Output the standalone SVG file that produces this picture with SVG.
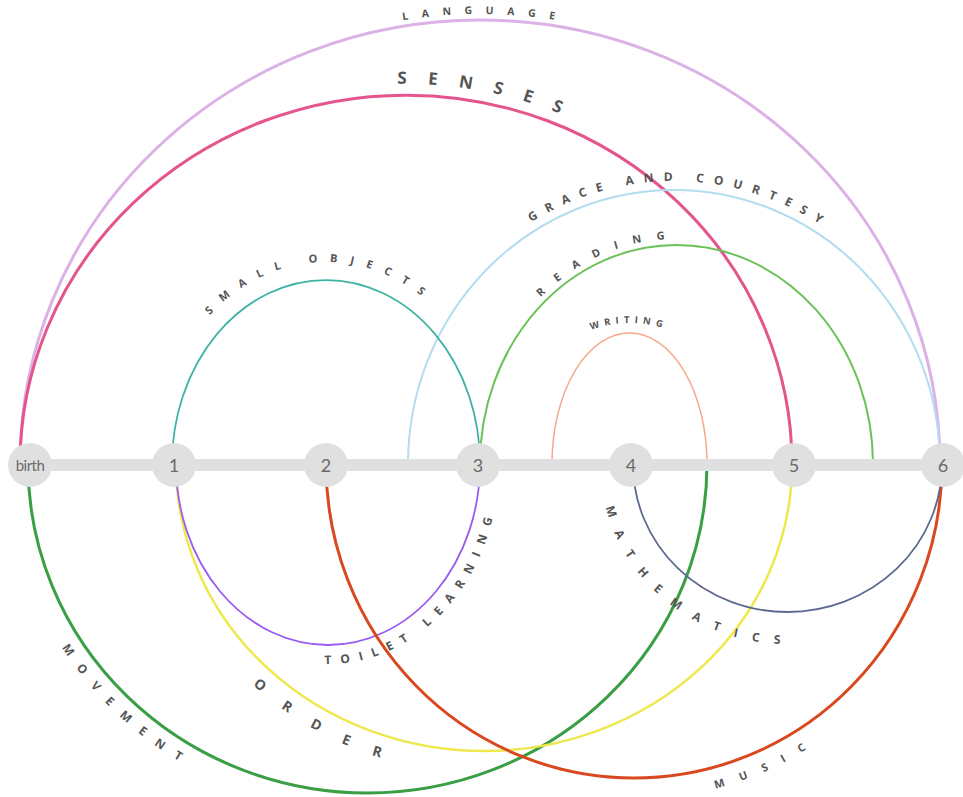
<svg xmlns="http://www.w3.org/2000/svg" width="963" height="797" viewBox="0 0 963 797">
<style>
.arc{fill:none;stroke-linecap:round}
.lbl{font-family:"Open Sans","Liberation Sans",sans-serif;font-weight:700;fill:#555555}
.node circle{fill:#e0e0e0}
.node text{font-family:"Lato","Open Sans",sans-serif;font-size:18px;fill:#6a6a6a;text-anchor:middle;dominant-baseline:central}
</style>
<defs>
<path id="p-language" d="M 14 464 A 466 450 0 0 1 946 464"/>
<path id="p-senses" d="M 9 464 A 397 380 0 0 1 803 464"/>
<path id="p-grace" d="M 399 464 A 275 283 0 0 1 949 464"/>
<path id="p-reading" d="M 474.5 464 A 202 225 0 0 1 878.5 464"/>
<path id="p-writing" d="M 583 333 Q 630 313 677 333"/>
<path id="p-small" d="M 154 464 A 172 202 0 0 1 498 464"/>
<path id="p-toilet" d="M 157 464 A 171 200 0 0 0 499 464"/>
<path id="p-movement" d="M 8.5 464 A 359 349 0 0 0 726.5 464"/>
<path id="p-order" d="M 154 464 A 330 309 0 0 0 814 464"/>
<path id="p-math" d="M 600.5 464 A 187 180 0 0 0 974.5 464"/>
<path id="p-music" d="M 305 464 A 329 335 0 0 0 963 464"/>
</defs>
<rect width="963" height="797" fill="#ffffff"/>
<g id="connectors">
<path id="arc-language" class="arc" d="M 20 464 A 460 444 0 0 1 940 464" stroke="#dcb2e6" stroke-width="3"/>
<path id="arc-senses" class="arc" d="M 20 464 A 386 369 0 0 1 792 464" stroke="#e4558e" stroke-width="3"/>
<path id="arc-grace" class="arc" d="M 408 464 A 266 274 0 0 1 940 464" stroke="#b4dcf0" stroke-width="2"/>
<path id="arc-reading" class="arc" d="M 480 464 A 196.5 219 0 0 1 873 464" stroke="#6cc25a" stroke-width="2"/>
<path id="arc-writing" class="arc" d="M 552 464 A 77.5 131 0 0 1 707 464" stroke="#f5a98a" stroke-width="1.5"/>
<path id="arc-small" class="arc" d="M 172 464 A 154 184 0 0 1 480 464" stroke="#3fb3a3" stroke-width="1.8"/>
<path id="arc-movement" class="arc" d="M 28 464 A 339.5 329 0 0 0 707 464" stroke="#3a9e45" stroke-width="3"/>
<path id="arc-order" class="arc" d="M 176 464 A 308 287 0 0 0 792 464" stroke="#efe84c" stroke-width="2.5"/>
<path id="arc-toilet" class="arc" d="M 176 464 A 152 181 0 0 0 480 464" stroke="#9a5cf0" stroke-width="1.8"/>
<path id="arc-music" class="arc" d="M 326 464 A 308 314 0 0 0 942 464" stroke="#d9481e" stroke-width="3"/>
<path id="arc-math" class="arc" d="M 633 464 A 154.5 148 0 0 0 942 464" stroke="#5c6890" stroke-width="1.8"/>
</g>
<g id="labels">
<text class="lbl" font-size="10.5" letter-spacing="13.5"><textPath href="#p-language" startOffset="44.6%">LANGUAGE</textPath></text>
<text class="lbl" font-size="17" letter-spacing="21"><textPath href="#p-senses" startOffset="49.3%">SENSES</textPath></text>
<text class="lbl" font-size="12" letter-spacing="10"><textPath href="#p-grace" startOffset="32.8%">GRACE AND COURTESY</textPath></text>
<text class="lbl" font-size="11" letter-spacing="15"><textPath href="#p-reading" startOffset="27.4%">READING</textPath></text>
<text class="lbl" font-size="9.5" letter-spacing="5"><textPath href="#p-writing" startOffset="9%">WRITING</textPath></text>
<text class="lbl" font-size="11" letter-spacing="12.5"><textPath href="#p-small" startOffset="27.6%">SMALL OBJECTS</textPath></text>
<text class="lbl" font-size="12" letter-spacing="9.6"><textPath href="#p-toilet" startOffset="49.4%">TOILET LEARNING</textPath></text>
<text class="lbl" font-size="12" letter-spacing="13.5"><textPath href="#p-movement" startOffset="17.4%">MOVEMENT</textPath></text>
<text class="lbl" font-size="14" letter-spacing="25"><textPath href="#p-order" startOffset="24.8%">ORDER</textPath></text>
<text class="lbl" font-size="12" letter-spacing="15"><textPath href="#p-math" startOffset="7.6%">MATHEMATICS</textPath></text>
<text class="lbl" font-size="11" letter-spacing="16"><textPath href="#p-music" startOffset="57.9%">MUSIC</textPath></text>
</g>
<g id="axis">
<line x1="30" y1="465" x2="943" y2="465" stroke="#e0e0e0" stroke-width="12"/>
</g>
<g id="node-birth" class="node"><circle cx="30" cy="465" r="22"/><text x="30" y="465" style="font-size:15px;letter-spacing:-0.5px">birth</text></g>
<g id="node-1" class="node"><circle cx="174" cy="465" r="22"/><text x="174" y="465">1</text></g>
<g id="node-2" class="node"><circle cx="326" cy="465" r="22"/><text x="326" y="465">2</text></g>
<g id="node-3" class="node"><circle cx="478" cy="465" r="22"/><text x="478" y="465">3</text></g>
<g id="node-4" class="node"><circle cx="631" cy="465" r="22"/><text x="631" y="465">4</text></g>
<g id="node-5" class="node"><circle cx="794" cy="465" r="22"/><text x="794" y="465">5</text></g>
<g id="node-6" class="node"><circle cx="943" cy="465" r="22"/><text x="943" y="465">6</text></g>
</svg>
